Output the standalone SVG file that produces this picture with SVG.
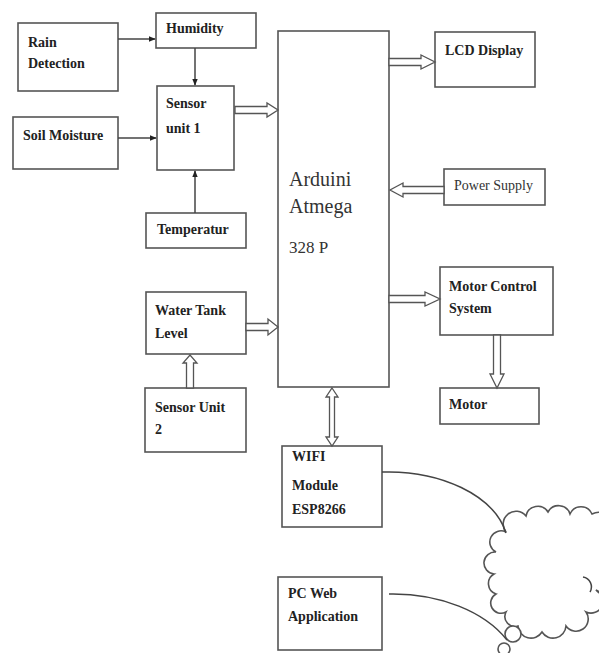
<svg xmlns="http://www.w3.org/2000/svg" width="599" height="653" viewBox="0 0 599 653">
<defs>
<style>
.box{fill:#fff;stroke:#555;stroke-width:1.6}
.t{font-size:14px;font-weight:bold;fill:#222}
.tn{fill:#333}
.ln{fill:none;stroke:#444;stroke-width:1.5}
.ha{fill:#fff;stroke:#555;stroke-width:1.3;stroke-linejoin:miter}
.cl{fill:#fff;stroke:#555;stroke-width:1.6}
</style>
<marker id="ah" viewBox="0 0 10 10" refX="9" refY="5" markerWidth="7" markerHeight="7" markerUnits="userSpaceOnUse" orient="auto">
<path d="M0,1 L10,5 L0,9 z" fill="#222"/>
</marker>
</defs>
<rect width="599" height="653" fill="#fff"/>
<g font-family="'Liberation Serif', 'Times New Roman', Times, serif">
<g id="rain"><rect class="box" x="18" y="23" width="100" height="68"/><text class="t" x="28" y="47">Rain</text><text class="t" x="28" y="68">Detection</text></g>
<g id="humidity"><rect class="box" x="156" y="13" width="100" height="35"/><text class="t" x="166" y="33">Humidity</text></g>
<g id="sensor1"><rect class="box" x="157" y="86" width="77" height="84"/><text class="t" x="166" y="108">Sensor</text><text class="t" x="166" y="133">unit 1</text></g>
<g id="soil"><rect class="box" x="13" y="117" width="105" height="52"/><text class="t" x="23" y="140">Soil Moisture</text></g>
<g id="temp"><rect class="box" x="146" y="213" width="100" height="35"/><text class="t" x="157" y="234">Temperatur</text></g>
<g id="arduino"><rect class="box" x="278" y="31" width="111" height="356"/><text class="tn" x="289" y="186" font-size="20">Arduini</text><text class="tn" x="289" y="213" font-size="20">Atmega</text><text class="tn" x="289" y="253" font-size="17">328 P</text></g>
<g id="lcd"><rect class="box" x="435" y="32" width="100" height="55"/><text class="t" x="445" y="55">LCD Display</text></g>
<g id="power"><rect class="box" x="444" y="169" width="101" height="36"/><text class="tn" x="454" y="190" font-size="14">Power Supply</text></g>
<g id="watertank"><rect class="box" x="146" y="292" width="100" height="62"/><text class="t" x="155" y="315">Water Tank</text><text class="t" x="155" y="338">Level</text></g>
<g id="sensor2"><rect class="box" x="145" y="388" width="101" height="64"/><text class="t" x="155" y="412">Sensor Unit</text><text class="t" x="155" y="434">2</text></g>
<g id="motorctl"><rect class="box" x="440" y="267" width="113" height="68"/><text class="t" x="449" y="291">Motor Control</text><text class="t" x="449" y="313">System</text></g>
<g id="motor"><rect class="box" x="440" y="388" width="99" height="36"/><text class="t" x="449" y="409">Motor</text></g>
<g id="wifi"><rect class="box" x="282" y="446" width="100" height="81"/><text class="t" x="292" y="461">WIFI</text><text class="t" x="292" y="490">Module</text><text class="t" x="292" y="514">ESP8266</text></g>
<g id="pc"><rect class="box" x="278" y="577" width="104" height="73"/><text class="t" x="288" y="598">PC Web</text><text class="t" x="288" y="621">Application</text></g>
</g>
<g id="cloud">
<path class="cl" d="M506,532 A12,12 0 0 1 526,516 A12,12 0 0 1 548,512 A12,12 0 0 1 570,514 A12,12 0 0 1 592,514 A14,14 0 0 1 612,530 L612,590 A10,10 0 0 1 596,590 A12,12 0 0 1 586,612 A12,12 0 0 1 566,626 A13,13 0 0 1 542,632 A13,13 0 0 1 518,626 A10,10 0 0 1 506,612 A10,10 0 0 1 496,594 A11,11 0 0 1 494,574 A11,11 0 0 1 496,552 A11,11 0 0 1 506,532 Z"/>
<path class="ln" d="M583,577 A10,10 0 0 1 590,592" stroke="#555"/>
<circle class="cl" cx="513" cy="634" r="8"/>
<circle class="cl" cx="504" cy="649" r="6"/>
</g>

<g id="connectors">
<line class="ln" x1="118" y1="39" x2="155" y2="39" marker-end="url(#ah)"/>
<line class="ln" x1="195" y1="48" x2="195" y2="85" marker-end="url(#ah)"/>
<line class="ln" x1="118" y1="138" x2="156" y2="138" marker-end="url(#ah)"/>
<line class="ln" x1="195" y1="213" x2="195" y2="171" marker-end="url(#ah)"/>
<polygon class="ha" points="235,106.5 267,106.5 267,103 278,110 267,117 267,113.5 235,113.5"/>
<polygon class="ha" points="389,58.5 421,58.5 421,55 435,62 421,69 421,65.5 389,65.5"/>
<polygon class="ha" points="444,186.5 403,186.5 403,183 390,190 403,197 403,193.5 444,193.5"/>
<polygon class="ha" points="246,323.5 268,323.5 268,319 278,327 268,335 268,330.5 246,330.5"/>
<polygon class="ha" points="186.5,388 186.5,363 183,363 190,355 197,363 193.5,363 193.5,388"/>
<polygon class="ha" points="389,295.5 425,295.5 425,292 440,299 425,306 425,302.5 389,302.5"/>
<polygon class="ha" points="493.5,335 493.5,374 490,374 497,388 504,374 500.5,374 500.5,335"/>
<polygon class="ha" points="332,388 338,397 334.5,397 334.5,437 338,437 332,446 326,437 329.5,437 329.5,397 326,397"/>
<path class="ln" d="M382,472 C440,470 494,495 506,533"/>
<path class="ln" d="M389,594 C440,593 485,612 507,640"/>
</g>
</svg>
